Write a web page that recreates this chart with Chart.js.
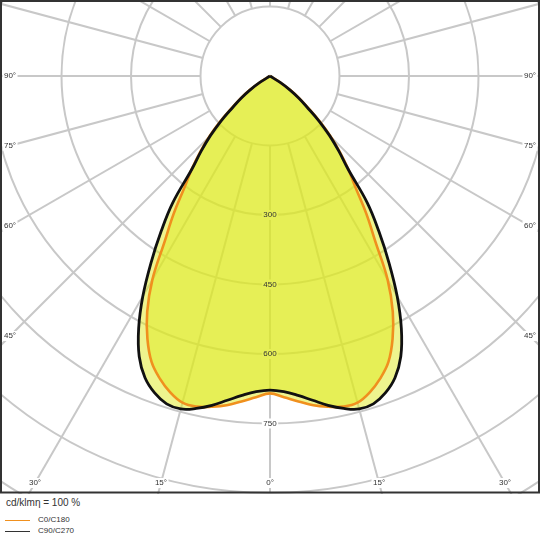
<!DOCTYPE html>
<html lang="en">
<head>
  <meta charset="UTF-8">
  <title>Luminous intensity distribution</title>
  <script src="https://cdn.jsdelivr.net/npm/chart.js@4.4.1/dist/chart.umd.min.js"></script>
  <style>
    body {
      margin: 0;
      background: #fff;
      font-family: Arial, "Liberation Sans", sans-serif;
      color: #333;
    }
    #wrap { position: relative; width: 540px; height: 494px; }
    #legend { position: relative; width: 540px; height: 46px; }
    .unit { position: absolute; left: 6px; top: 3px; font-size: 10px; line-height: 12px; }
    .item { position: absolute; left: 5px; height: 10px; font-size: 8px; line-height: 10px; }
    .item span.sw { position: absolute; left: 0; top: 5px; width: 25px; height: 1px; }
    .item span.tx { position: absolute; left: 33px; top: 0; white-space: nowrap; }
  </style>
</head>
<body>

<div id="wrap">
  <canvas id="ldc" width="540" height="494"></canvas>
</div>
<div id="legend">
  <div class="unit">cd/klmη = 100 %</div>
  <div class="item" style="top: 21px;"><span class="sw" style="background:#f0901e;"></span><span class="tx">C0/C180</span></div>
  <div class="item" style="top: 32px;"><span class="sw" style="background:#333;"></span><span class="tx">C90/C270</span></div>
</div>

<script>

// gamma angles (deg from nadir), same on both halves
var angles = [0, 2.5, 5, 7.5, 10, 12.5, 15, 17.5, 20, 22.5, 25, 27.5, 30,
              32.5, 35, 37.5, 40, 42.5, 45, 47.5, 50, 52.5, 55, 57.5, 60];

// cd/klm
var c0c180  = [685, 694, 705, 717, 725, 731, 730, 716, 695, 668, 626, 574, 508,
               423, 362, 303, 263, 224, 186, 147, 108, 81, 55, 27, 0];
var c90c270 = [678, 682, 692, 706, 722, 735, 744, 742, 728, 705, 668, 614, 549,
               478, 410, 345, 262, 220, 182, 143, 104, 78, 53, 26, 0];

var ringTicks  = [300, 450, 600, 750];
var gridRings  = [150, 300, 450, 600, 750, 900, 1050, 1200, 1350, 1500];
var angleTicks = [0, 15, 30, 45, 60, 75, 90];

// layout of the diagram
var PX_PER_CD = 0.4633;
var CX = 270, CY = 76, W = 540, H = 494;
var FONT = '8px Arial, "Liberation Sans", sans-serif';

function toRad(d) { return d * Math.PI / 180; }

// polar -> x/y, left half then right half
function curve(vals) {
  var pts = [];
  for (var i = angles.length - 1; i >= 0; i--) {
    pts.push({ x: -vals[i] * Math.sin(toRad(angles[i])), y: -vals[i] * Math.cos(toRad(angles[i])) });
  }
  for (var j = 1; j < angles.length; j++) {
    pts.push({ x: vals[j] * Math.sin(toRad(angles[j])), y: -vals[j] * Math.cos(toRad(angles[j])) });
  }
  return pts;
}

// label anchor points in pixels
function labelSpots(chart) {
  var xs = chart.scales.x, ys = chart.scales.y, a = chart.chartArea;
  var cx = xs.getPixelForValue(0), cy = ys.getPixelForValue(0);
  var spots = [];
  ringTicks.forEach(function(v) {
    spots.push({ text: String(v), x: cx, y: ys.getPixelForValue(-v) });
  });
  // angle labels sit where the spokes leave an inset frame
  var inL = a.left + 10, inR = a.right - 10, inB = a.bottom - 11;
  angleTicks.forEach(function(t) {
    [-1, 1].forEach(function(side) {
      if (t === 0 && side === 1) return;
      var s = Math.sin(toRad(t)), c = Math.cos(toRad(t));
      var tSide = s > 0 ? (side < 0 ? cx - inL : inR - cx) / s : Infinity;
      var tBot = c > 0 ? (inB - cy) / c : Infinity;
      var d = Math.min(tSide, tBot);
      spots.push({ text: t + '°', x: cx + side * s * d, y: cy + c * d });
    });
  });
  return spots;
}

var polarGrid = {
  id: 'polarGrid',
  beforeDraw: function(chart) {
    var ctx = chart.ctx, xs = chart.scales.x, ys = chart.scales.y, a = chart.chartArea;
    var cx = xs.getPixelForValue(0), cy = ys.getPixelForValue(0);
    var unit = xs.getPixelForValue(1) - cx;

    ctx.save();
    ctx.fillStyle = '#fff';
    ctx.fillRect(0, 0, chart.width, chart.height);
    ctx.beginPath();
    ctx.rect(a.left, a.top, a.right - a.left, a.bottom - a.top);
    ctx.clip();

    ctx.strokeStyle = '#c8c8c8';
    ctx.lineWidth = 2;
    gridRings.forEach(function(v) {
      ctx.beginPath();
      ctx.arc(cx, cy, v * unit, 0, 2 * Math.PI);
      ctx.stroke();
    });
    var r0 = gridRings[0] * unit;
    for (var g = 0; g < 360; g += 15) {
      var s = Math.sin(toRad(g)), c = Math.cos(toRad(g));
      ctx.beginPath();
      ctx.moveTo(cx + s * r0, cy + c * r0);
      ctx.lineTo(cx + s * 1200, cy + c * 1200);
      ctx.stroke();
    }

    // white boxes behind the labels, under the fills
    ctx.font = FONT;
    ctx.fillStyle = '#fff';
    labelSpots(chart).forEach(function(p) {
      var w = ctx.measureText(p.text).width;
      ctx.fillRect(p.x - w / 2 - 1.5, p.y - 5, w + 3, 10);
    });
    ctx.restore();
  },
  afterDatasetsDraw: function(chart) {
    var ctx = chart.ctx;
    ctx.save();
    ctx.font = FONT;
    ctx.textAlign = 'center';
    ctx.textBaseline = 'middle';
    ctx.fillStyle = '#333';
    labelSpots(chart).forEach(function(p) {
      ctx.fillText(p.text, p.x, p.y);
    });
    ctx.restore();
  },
  afterDraw: function(chart) {
    var ctx = chart.ctx;
    ctx.save();
    ctx.strokeStyle = '#333';
    ctx.lineWidth = 2;
    ctx.strokeRect(1, 1, chart.width - 2, chart.height - 2.5);
    ctx.restore();
  }
};

var ctx = document.getElementById('ldc').getContext('2d');
var chart = new Chart(ctx, {
  type: 'scatter',
  data: {
    datasets: [{
      label: 'C90/C270',
      data: curve(c90c270),
      showLine: true,
      fill: 'shape',
      borderColor: '#111',
      borderWidth: 2.8,
      backgroundColor: 'rgba(222, 234, 30, 0.5)',
      pointRadius: 0,
      tension: 0.4
    }, {
      label: 'C0/C180',
      data: curve(c0c180),
      showLine: true,
      fill: 'shape',
      borderColor: '#f0901e',
      borderWidth: 2.6,
      backgroundColor: 'rgba(222, 234, 30, 0.5)',
      pointRadius: 0,
      tension: 0.4
    }]
  },
  options: {
    responsive: false,
    animation: false,
    layout: { padding: 0 },
    plugins: {
      legend: { display: false },
      tooltip: { enabled: false },
      filler: { drawTime: 'beforeDatasetsDraw' }
    },
    scales: {
      x: { type: 'linear', display: false, min: -CX / PX_PER_CD, max: (W - CX) / PX_PER_CD },
      y: { type: 'linear', display: false, min: -(H - CY) / PX_PER_CD, max: CY / PX_PER_CD }
    }
  },
  plugins: [polarGrid]
});

</script>
</body>
</html>
